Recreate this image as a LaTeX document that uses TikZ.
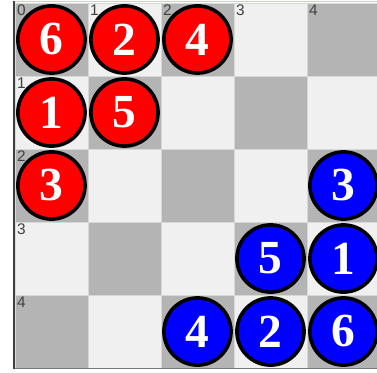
\documentclass[tikz,border=0pt]{standalone}
\usepackage{fontspec}
\setmainfont{Liberation Serif}
\setsansfont{Liberation Sans}
\definecolor{sqdark}{HTML}{B4B4B4}
\definecolor{sqlight}{HTML}{F0F0F0}
\definecolor{labgray}{HTML}{404040}
\definecolor{edgegray}{HTML}{D8D8D8}
\tikzset{
  piece/.style={circle, draw=black, line width=1.4pt, minimum size=0.92cm, inner sep=0pt,
    text=white, font=\fontsize{18.5}{18.5}\selectfont\bfseries},
  redpiece/.style={piece, fill=red},
  bluepiece/.style={piece, fill=blue},
  idx/.style={anchor=north west, inner sep=0.6pt, text=labgray, font=\sffamily\fontsize{6}{6}\selectfont}
}
\begin{document}
\begin{tikzpicture}
  \useasboundingbox (-0.205,0.041) rectangle (4.959,-5.055);
  \fill[white] (-0.205,0.041) rectangle (4.959,-5.055);
  % board
  \foreach \r in {0,...,4}
    \foreach \c in {0,...,4} {
      \pgfmathparse{mod(\r+\c,2)==0 ? "sqdark" : "sqlight"}
      \fill[\pgfmathresult] (\c,-\r) rectangle ++(1,-1);
    }
  \draw[edgegray, line width=0.3pt] (0,0) grid (5,-5);
  \draw[red!25, line width=0.4pt] (0,0.015) -- (5,0.015);
  \draw[labgray!70, line width=0.5pt] (0,-5.01) -- (5,-5.01);
  \draw[labgray, line width=0.8pt] (-0.01,0.03) -- (-0.01,-5.02);
  % indices
  \foreach \c in {0,...,4}
    \node[idx] (top\c) at (\c,0) {\c};
  \foreach \r in {1,...,4}
    \node[idx] (side\r) at (0,-\r) {\r};
  % red pieces
  \foreach \r/\c/\n in {0/0/6, 0/1/2, 0/2/4, 1/0/1, 1/1/5, 2/0/3}
    \node[redpiece] (red\n) at (\c+0.5,-\r-0.5) {\n};
  % blue pieces
  \foreach \r/\c/\n in {2/4/3, 3/3/5, 3/4/1, 4/2/4, 4/3/2, 4/4/6}
    \node[bluepiece] (blue\n) at (\c+0.5,-\r-0.5) {\n};
\end{tikzpicture}
\end{document}
